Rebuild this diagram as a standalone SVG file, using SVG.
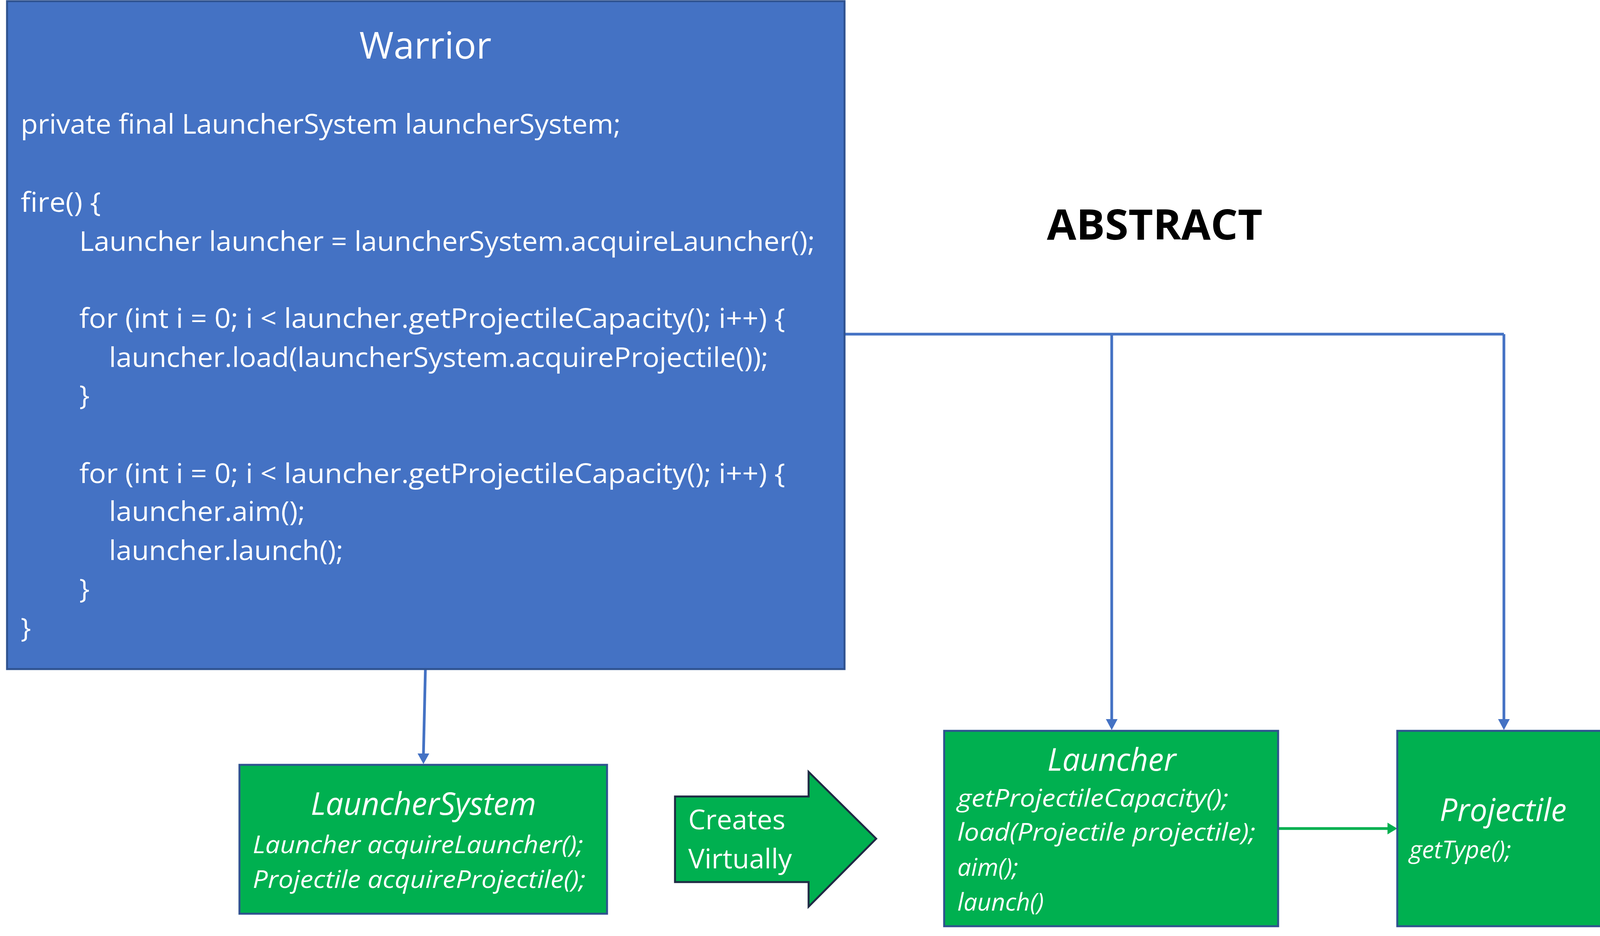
<svg xmlns="http://www.w3.org/2000/svg" width="4123" height="2395" viewBox="0 0 4123 2395">
<style>
.t{font-family:"Open Sans","Liberation Sans",sans-serif;fill:#fff}
.c{font-size:70px}
.i{font-style:italic}
.s{font-size:62px}
.h{font-size:80px}
</style>
<defs>
<marker id="ab" viewBox="0 0 10 10" refX="10" refY="5" markerWidth="5" markerHeight="5" orient="auto" markerUnits="userSpaceOnUse" style="overflow:visible"><path d="M0,0 L10,5 L0,10 z" fill="#4472C4" transform="scale(2.2)"/></marker>
<marker id="ag" viewBox="0 0 10 10" refX="10" refY="5" markerWidth="5" markerHeight="5" orient="auto" style="overflow:visible"><path d="M0,0 L10,5 L0,10 z" fill="#00B050" transform="scale(2.2) translate(-5.5,-2.7)"/></marker>
</defs>
<rect width="4123" height="2395" fill="#fff"/>
<g id="connectors" fill="none" stroke-width="7">
<polyline points="2162,855 3850,855" stroke="#4472C4"/>
<line x1="2846" y1="855" x2="2846" y2="1845" stroke="#4472C4"/>
<path d="M2831,1840 L2846,1868 L2861,1840 z" fill="#4472C4" stroke="none"/>
<line x1="3850" y1="855" x2="3850" y2="1845" stroke="#4472C4"/>
<path d="M3835,1840 L3850,1868 L3865,1840 z" fill="#4472C4" stroke="none"/>
<line x1="1089" y1="1712" x2="1084" y2="1930" stroke="#4472C4"/>
<path d="M1069,1928 L1084,1955 L1099,1928 z" fill="#4472C4" stroke="none"/>
<line x1="3272" y1="2120" x2="3555" y2="2120" stroke="#00B050"/>
<path d="M3552,2105 L3577,2120 L3552,2135 z" fill="#00B050" stroke="none"/>
</g>
<g id="warrior">
<rect x="18" y="3" width="2144" height="1709" fill="#4472C4" stroke="#2F528F" stroke-width="5"/>
<text class="t" x="1089" y="150" font-size="95" text-anchor="middle">Warrior</text>
<g class="t c">
<text x="53" y="342" textLength="1536" lengthAdjust="spacingAndGlyphs">private final LauncherSystem launcherSystem;</text>
<text x="53" y="542" textLength="205" lengthAdjust="spacingAndGlyphs">fire() {</text>
<text x="203" y="642" textLength="1883" lengthAdjust="spacingAndGlyphs">Launcher launcher = launcherSystem.acquireLauncher();</text>
<text x="203" y="839" textLength="1807" lengthAdjust="spacingAndGlyphs">for (int i = 0; i &lt; launcher.getProjectileCapacity(); i++) {</text>
<text x="279" y="939" textLength="1688" lengthAdjust="spacingAndGlyphs">launcher.load(launcherSystem.acquireProjectile());</text>
<text x="203" y="1036">}</text>
<text x="203" y="1236" textLength="1807" lengthAdjust="spacingAndGlyphs">for (int i = 0; i &lt; launcher.getProjectileCapacity(); i++) {</text>
<text x="279" y="1333" textLength="502" lengthAdjust="spacingAndGlyphs">launcher.aim();</text>
<text x="279" y="1433" textLength="600" lengthAdjust="spacingAndGlyphs">launcher.launch();</text>
<text x="203" y="1531">}</text>
<text x="53" y="1631">}</text>
</g>
</g>
<g id="abstract"><text x="2680" y="613" font-family="'Open Sans','Liberation Sans',sans-serif" font-weight="bold" font-size="108" fill="#000" textLength="552" lengthAdjust="spacingAndGlyphs">ABSTRACT</text></g>
<g id="launcherSystem">
<rect x="613" y="1957" width="941" height="381" fill="#00B050" stroke="#2F528F" stroke-width="5"/>
<text class="t i h" x="1084" y="2085" text-anchor="middle">LauncherSystem</text>
<text class="t i s" x="647" y="2183" textLength="846" lengthAdjust="spacingAndGlyphs">Launcher acquireLauncher();</text>
<text class="t i s" x="647" y="2272" textLength="852" lengthAdjust="spacingAndGlyphs">Projectile acquireProjectile();</text>
</g>
<g id="createsVirtually">
<path d="M1728,2038 L2070,2038 L2070,1975 L2243,2146 L2070,2320 L2070,2257 L1728,2257 z" fill="#00B050" stroke="#1F2A44" stroke-width="5"/>
<text class="t c" x="1762" y="2122">Creates</text>
<text class="t c" x="1762" y="2222">Virtually</text>
</g>
<g id="launcher">
<rect x="2417" y="1870" width="855" height="500" fill="#00B050" stroke="#2F528F" stroke-width="5"/>
<text class="t i h" x="2846" y="1972" text-anchor="middle">Launcher</text>
<text class="t i s" x="2451" y="2064" textLength="694" lengthAdjust="spacingAndGlyphs">getProjectileCapacity();</text>
<text class="t i s" x="2451" y="2151" textLength="763" lengthAdjust="spacingAndGlyphs">load(Projectile projectile);</text>
<text class="t i s" x="2451" y="2241">aim();</text>
<text class="t i s" x="2451" y="2330">launch()</text>
</g>
<g id="projectile">
<rect x="3577" y="1870" width="542" height="500" fill="#00B050" stroke="#2F528F" stroke-width="5"/>
<text class="t i h" x="3848" y="2101" text-anchor="middle">Projectile</text>
<text class="t i s" x="3608" y="2196">getType();</text>
</g>
</svg>
